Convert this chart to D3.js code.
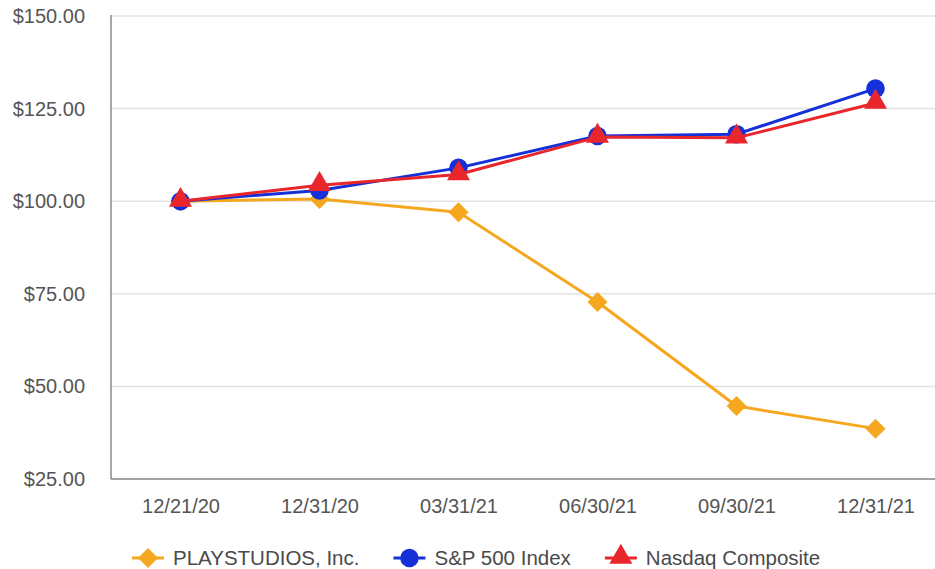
<!DOCTYPE html>
<html>
<head>
<meta charset="utf-8">
<script src="https://cdn.jsdelivr.net/npm/d3@7"></script>
<style>
  html, body { margin: 0; padding: 0; background: #fff; }
  svg { display: block; font-family: "Liberation Sans", Arial, sans-serif; }
</style>
</head>
<body>
<svg id="chart" width="935" height="569"></svg>
<script>
const categories = ["12/21/20", "12/31/20", "03/31/21", "06/30/21", "09/30/21", "12/31/21"];
const seriesNames = ["PLAYSTUDIOS, Inc.", "S&P 500 Index", "Nasdaq Composite"];
const playstudios = [100.00, 100.6, 97.0, 72.8, 44.7, 38.6];
const sp500 = [100.00, 102.9, 109.0, 117.6, 118.1, 130.4];
const nasdaq = [100.00, 104.3, 107.2, 117.3, 117.1, 126.5];
const yTicks = [25, 50, 75, 100, 125, 150];
const colors = ["#f5a81f", "#1530d8", "#e8262c"];
const shapes = ["diamond", "circle", "triangle"];

const series = [playstudios, sp500, nasdaq].map((vals, i) => ({
  name: seriesNames[i], values: vals, color: colors[i], shape: shapes[i]
}));

const svg = d3.select("#chart");
const mLeft = 111, mRight = 945, mTop = 16, mBottom = 479;

const x = d3.scalePoint().domain(categories).range([mLeft, mRight]).padding(0.5);
const y = d3.scaleLinear().domain([25, 150]).range([mBottom, mTop]);

// gridlines
svg.append("g").selectAll("line").data(yTicks).join("line")
  .attr("x1", mLeft).attr("x2", 935)
  .attr("y1", d => y(d)).attr("y2", d => y(d))
  .attr("stroke", "#e3e3e3").attr("stroke-width", 1.5);

// y axis
const yAxis = d3.axisLeft(y).tickValues(yTicks).tickSize(0).tickPadding(26)
  .tickFormat(d => "$" + d3.format(".2f")(d));
const gy = svg.append("g").attr("transform", `translate(${mLeft},0)`).call(yAxis);
gy.select(".domain").remove();
gy.selectAll("text").attr("font-size", 20).attr("fill", "#555555")
  .attr("font-family", "Liberation Sans, Arial, sans-serif");

// x axis
const xAxis = d3.axisBottom(x).tickSize(0).tickPadding(20);
const gx = svg.append("g").attr("transform", `translate(0,${mBottom})`).call(xAxis);
gx.select(".domain").remove();
gx.selectAll("text").attr("font-size", 20).attr("fill", "#555555")
  .attr("font-family", "Liberation Sans, Arial, sans-serif");

// axis lines
svg.append("line").attr("x1", mLeft).attr("x2", mLeft).attr("y1", mTop - 1).attr("y2", mBottom)
  .attr("stroke", "#8a8a8a").attr("stroke-width", 1.5);
svg.append("line").attr("x1", mLeft).attr("x2", 935).attr("y1", mBottom).attr("y2", mBottom)
  .attr("stroke", "#8a8a8a").attr("stroke-width", 1.5);

const symbolFor = {
  diamond: d3.symbol().type(d3.symbolSquare).size(200),
  circle: d3.symbol().type(d3.symbolCircle).size(270),
  triangle: d3.symbol().type(d3.symbolTriangle).size(230)
};
function markerTransform(shape, cx, cy) {
  if (shape === "diamond") return `translate(${cx},${cy}) rotate(45)`;
  if (shape === "triangle") return `translate(${cx},${cy - 1})`;
  return `translate(${cx},${cy})`;
}

const line = d3.line().x((d, i) => x(categories[i])).y(d => y(d));

series.forEach(s => {
  const g = svg.append("g");
  g.append("path").datum(s.values).attr("d", line)
    .attr("fill", "none").attr("stroke", s.color).attr("stroke-width", 3)
    .attr("stroke-linejoin", "round");
  g.selectAll("path.m").data(s.values).join("path").attr("class", "m")
    .attr("d", symbolFor[s.shape]())
    .attr("transform", (d, i) => markerTransform(s.shape, x(categories[i]), y(d)))
    .attr("fill", s.color);
});

// legend
const legend = svg.append("g").attr("transform", "translate(132,558)");
let lx = 0;
series.forEach(s => {
  const item = legend.append("g").attr("transform", `translate(${lx},0)`);
  item.append("line").attr("x1", 0).attr("x2", 32).attr("y1", 0).attr("y2", 0)
    .attr("stroke", s.color).attr("stroke-width", 3);
  item.append("path").attr("d", symbolFor[s.shape]())
    .attr("transform", markerTransform(s.shape, 16, 0)).attr("fill", s.color);
  const t = item.append("text").attr("x", 41).attr("y", 0).attr("dy", "0.35em")
    .attr("font-size", 20.5).attr("fill", "#4a4a4a").text(s.name);
  lx += 41 + t.node().getComputedTextLength() + 34;
});
</script>
</body>
</html>
